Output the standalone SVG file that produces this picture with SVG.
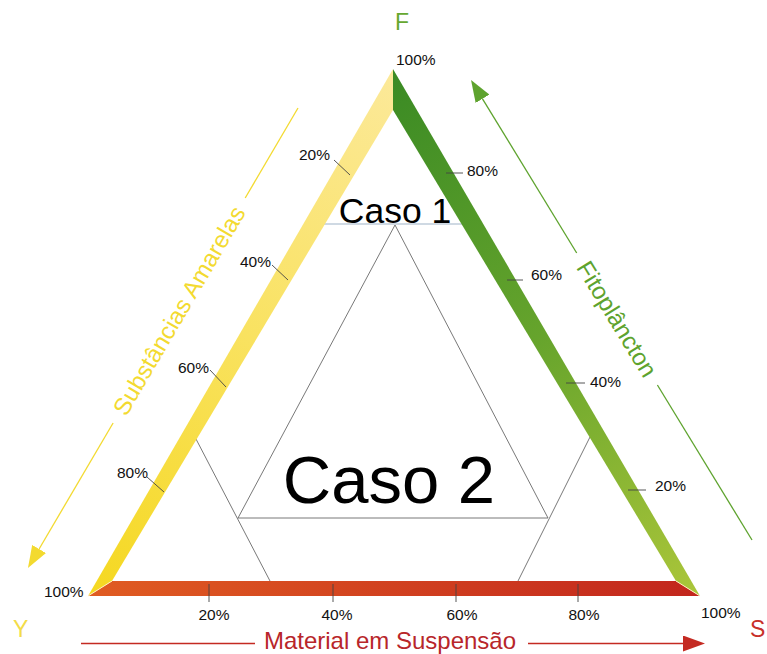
<svg xmlns="http://www.w3.org/2000/svg" width="767" height="654" viewBox="0 0 767 654">
<style>
.lbl{font-family:"Liberation Sans",Arial,sans-serif;font-size:15.5px;fill:#111}
.tick{stroke:#444;stroke-width:0.9;fill:none}
.inner{stroke:#555;stroke-width:0.8;fill:none}
.big{font-family:"Liberation Sans",Arial,sans-serif;fill:#000}
.axis{font-family:"Liberation Sans",Arial,sans-serif;font-size:24px}
.corner{font-family:"Liberation Sans",Arial,sans-serif;font-size:23px}
</style>
<defs>
<linearGradient id="gY" gradientUnits="userSpaceOnUse" x1="393" y1="69" x2="88" y2="596">
<stop offset="0" stop-color="#fce99a"/><stop offset="0.5" stop-color="#f9e260"/><stop offset="1" stop-color="#f5d820"/>
</linearGradient>
<linearGradient id="gG" gradientUnits="userSpaceOnUse" x1="393" y1="69" x2="700" y2="596">
<stop offset="0" stop-color="#3a8a24"/><stop offset="0.5" stop-color="#66a42c"/><stop offset="1" stop-color="#abc63a"/>
</linearGradient>
<linearGradient id="gR" gradientUnits="userSpaceOnUse" x1="88" y1="0" x2="700" y2="0">
<stop offset="0" stop-color="#e05c22"/><stop offset="1" stop-color="#c2261d"/>
</linearGradient>
<marker id="mR" markerUnits="userSpaceOnUse" viewBox="0 0 22 16" markerWidth="22" markerHeight="16" refX="0" refY="8" orient="auto"><path d="M0,0 L22,8 L0,16 z" fill="#c42a22"/></marker>
<marker id="mG" markerUnits="userSpaceOnUse" viewBox="0 0 22 16" markerWidth="22" markerHeight="16" refX="0" refY="8" orient="auto"><path d="M0,0 L22,8 L0,16 z" fill="#5ea32e"/></marker>
<marker id="mY" markerUnits="userSpaceOnUse" viewBox="0 0 22 16" markerWidth="22" markerHeight="16" refX="0" refY="8" orient="auto"><path d="M0,0 L22,8 L0,16 z" fill="#f3da30"/></marker>
</defs>
<rect width="767" height="654" fill="#fff"/>

<g id="regions">
<line x1="322" y1="224" x2="464" y2="224" stroke="#9fb4c8" stroke-width="1.2"/>
<line class="inner" x1="395" y1="225" x2="238" y2="518"/>
<line class="inner" x1="395" y1="225" x2="548" y2="518"/>
<line class="inner" x1="238" y1="518" x2="548" y2="518"/>
<line class="inner" x1="196" y1="439" x2="270" y2="581"/>
<line class="inner" x1="590" y1="437" x2="518" y2="581"/>
</g>

<g id="bars">
<polygon id="bar-y" points="393,69 393,110 112,581 88,596" fill="url(#gY)"/>
<polygon id="bar-f" points="393,69 700,596 676,581 393,110" fill="url(#gG)"/>
<polygon id="bar-s" points="88,596 112,581 676,581 700,596" fill="url(#gR)"/>
<line x1="88" y1="596" x2="112" y2="581" stroke="#fff3c0" stroke-width="1"/>
<line x1="700" y1="596" x2="676" y2="581" stroke="#fff3c0" stroke-width="1"/>
</g>

<g id="ticks">
<line class="tick" x1="334" y1="160" x2="350" y2="175"/>
<line class="tick" x1="272" y1="265" x2="288" y2="280"/>
<line class="tick" x1="210" y1="370" x2="226" y2="387"/>
<line class="tick" x1="147" y1="477" x2="164" y2="492"/>
<line class="tick" x1="446" y1="173" x2="463" y2="173"/>
<line class="tick" x1="507" y1="280" x2="523" y2="280"/>
<line class="tick" x1="566" y1="383" x2="585" y2="383"/>
<line class="tick" x1="628" y1="490" x2="646" y2="490"/>
<line class="tick" x1="209" y1="584" x2="209" y2="602"/>
<line class="tick" x1="333" y1="584" x2="333" y2="602"/>
<line class="tick" x1="456" y1="584" x2="456" y2="602"/>
<line class="tick" x1="578" y1="584" x2="578" y2="602"/>
</g>

<g id="tick-labels">
<text class="lbl" x="396" y="65">100%</text>
<text class="lbl" x="44" y="597">100%</text>
<text class="lbl" x="701" y="618">100%</text>
<text class="lbl" x="299" y="160">20%</text>
<text class="lbl" x="240" y="267">40%</text>
<text class="lbl" x="178" y="373">60%</text>
<text class="lbl" x="117" y="478">80%</text>
<text class="lbl" x="467" y="176">80%</text>
<text class="lbl" x="531" y="280">60%</text>
<text class="lbl" x="590" y="387">40%</text>
<text class="lbl" x="655" y="491">20%</text>
<text class="lbl" x="214" y="620" text-anchor="middle">20%</text>
<text class="lbl" x="337" y="620" text-anchor="middle">40%</text>
<text class="lbl" x="462" y="620" text-anchor="middle">60%</text>
<text class="lbl" x="584" y="620" text-anchor="middle">80%</text>
</g>

<g id="caso1"><text class="big" x="395" y="223" font-size="35.5" text-anchor="middle">Caso 1</text></g>
<g id="caso2"><text class="big" x="389" y="503" font-size="67" text-anchor="middle">Caso 2</text></g>

<g id="corners">
<text class="corner" x="395" y="30" fill="#66a830">F</text>
<text class="corner" x="13" y="637" fill="#f3dc48">Y</text>
<text class="corner" x="750" y="637" fill="#c8302a">S</text>
</g>

<g id="connectors">
<line x1="81" y1="643.5" x2="255" y2="643.5" stroke="#c42a22" stroke-width="1.5"/>
<line x1="528" y1="643.5" x2="683" y2="643.5" stroke="#c42a22" stroke-width="1.5" marker-end="url(#mR)"/>
<line x1="752" y1="540" x2="657.4" y2="385" stroke="#5ea32e" stroke-width="1.3"/>
<line x1="576.7" y1="253" x2="482.5" y2="98.8" stroke="#5ea32e" stroke-width="1.3" marker-end="url(#mG)"/>
<line x1="298" y1="108" x2="245.2" y2="198" stroke="#f3da30" stroke-width="1.3"/>
<line x1="113.1" y1="423" x2="39.1" y2="549" stroke="#f3da30" stroke-width="1.3" marker-end="url(#mY)"/>
</g>

<g id="axis-labels">
<text class="axis" x="390" y="649" fill="#b8262a" text-anchor="middle">Material em Suspensão</text>
<text class="axis" fill="#5ea32e" text-anchor="middle" dy="0.35em" transform="translate(617,319) rotate(58.6)">Fitoplâncton</text>
<text class="axis" fill="#f3da30" text-anchor="middle" dy="0.35em" transform="translate(179,310.5) rotate(-59.6)">Substâncias Amarelas</text>
</g>
</svg>
